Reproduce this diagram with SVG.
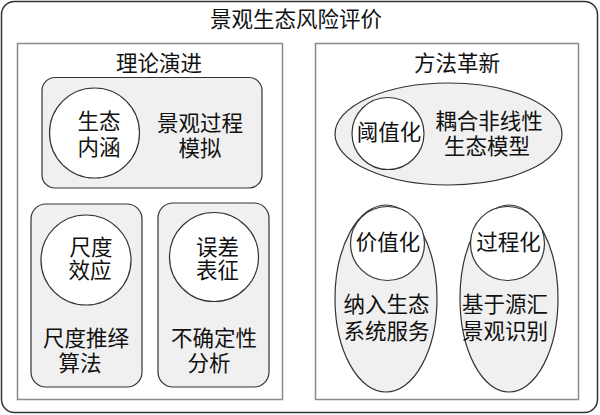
<svg xmlns="http://www.w3.org/2000/svg" width="600" height="415" viewBox="0 0 600 415">
<style>
text{font-family:"Liberation Serif","Noto Sans CJK SC",serif;font-size:21.5px;fill:#111;text-anchor:middle}
.outer{fill:#fff;stroke:#333;stroke-width:1.5}
.panel{fill:#fff;stroke:#8a8a8a;stroke-width:1.5}
.box{fill:#f0f0f0;stroke:#333;stroke-width:1.2}
.circ{fill:#fff;stroke:#333;stroke-width:1.2}
</style>
<rect x="0" y="0" width="600" height="415" fill="#fff"/>
<g id="root">
<rect class="outer" x="1.5" y="1.5" width="596" height="411" rx="13"/>
<text x="296" y="27">景观生态风险评价</text>
</g>
<g id="theory">
<rect class="panel" x="17.5" y="43.5" width="265" height="356"/>
<text x="159" y="71">理论演进</text>
</g>
<g id="methods">
<rect class="panel" x="315.5" y="43.5" width="263" height="356"/>
<text x="457" y="71">方法革新</text>
</g>
<g id="node-landscape">
<rect class="box" x="42" y="77.5" width="220" height="110.5" rx="13"/>
<circle class="circ" cx="94.5" cy="133" r="45"/>
<text x="99" y="129">生态</text>
<text x="99" y="155">内涵</text>
<text x="200" y="131">景观过程</text>
<text x="200" y="156">模拟</text>
</g>
<g id="node-scale">
<rect class="box" x="31" y="204" width="111" height="183" rx="15"/>
<circle class="circ" cx="86" cy="260" r="45"/>
<text x="91" y="255">尺度</text>
<text x="90" y="278">效应</text>
<text x="86" y="346">尺度推绎</text>
<text x="80" y="371">算法</text>
</g>
<g id="node-uncertainty">
<rect class="box" x="158" y="203" width="111" height="184" rx="15"/>
<circle class="circ" cx="214" cy="257" r="44.5"/>
<text x="217.5" y="255">误差</text>
<text x="217.5" y="278">表征</text>
<text x="214" y="346">不确定性</text>
<text x="209" y="371">分析</text>
</g>
<g id="node-threshold">
<ellipse class="box" cx="448.5" cy="134" rx="113.5" ry="51"/>
<circle class="circ" cx="388" cy="133.5" r="36"/>
<text x="389" y="140">阈值化</text>
<text x="489" y="129">耦合非线性</text>
<text x="487" y="154">生态模型</text>
</g>
<g id="node-value">
<ellipse class="box" cx="386" cy="298.5" rx="51" ry="93.5"/>
<circle class="circ" cx="387.5" cy="243.5" r="37"/>
<text x="388" y="250">价值化</text>
<text x="386.5" y="312">纳入生态</text>
<text x="386.5" y="339">系统服务</text>
</g>
<g id="node-process">
<ellipse class="box" cx="509" cy="298.5" rx="49" ry="93.5"/>
<circle class="circ" cx="507.5" cy="243.5" r="37"/>
<text x="508.5" y="250">过程化</text>
<text x="505" y="312">基于源汇</text>
<text x="505" y="339">景观识别</text>
</g>
<g id="connectors"></g>
</svg>
